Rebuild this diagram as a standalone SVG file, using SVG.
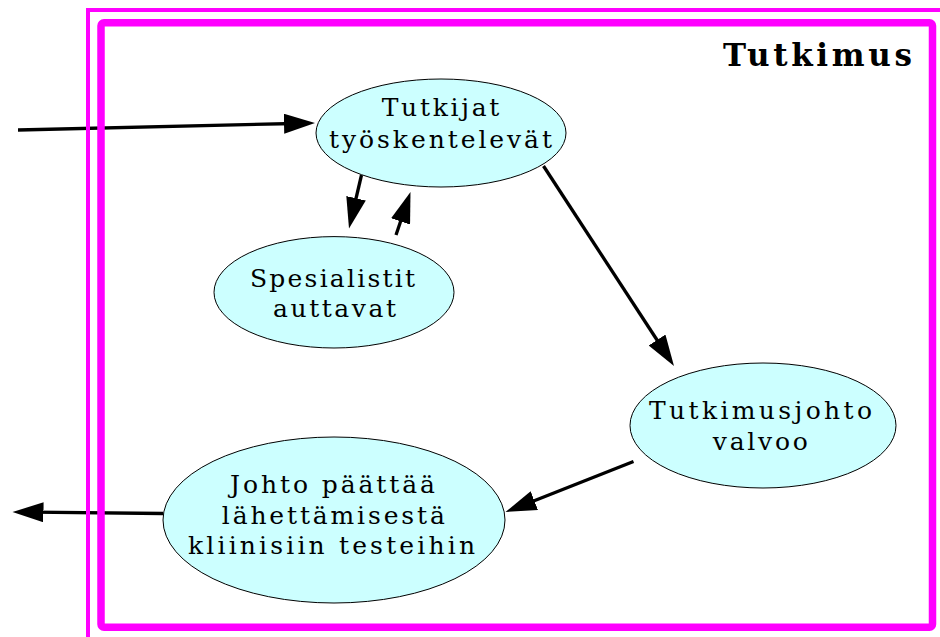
<svg xmlns="http://www.w3.org/2000/svg" width="940" height="637" viewBox="0 0 940 637">
<style>
.node ellipse{fill:#ccffff;stroke:#000;stroke-width:1}
.node text{font-family:"DejaVu Serif","Liberation Serif",serif;font-size:25px;fill:#000;text-anchor:middle}
.conn line{stroke:#000;stroke-width:3.3;fill:none}
.frame{fill:none;stroke:#ff00ff}
.title{font-family:"DejaVu Serif","Liberation Serif",serif;font-weight:bold;font-size:31px;fill:#000;text-anchor:end}
</style>
<defs>
<marker id="ah" markerUnits="userSpaceOnUse" viewBox="0 0 31 20" markerWidth="31" markerHeight="20" refX="11" refY="10" orient="auto">
<path d="M0,0 L31,10 L0,20 z" fill="#000"/>
</marker>
</defs>
<rect width="940" height="637" fill="#fff"/>
<g id="connectors" class="conn">
<line x1="18" y1="130" x2="295" y2="123.5" marker-end="url(#ah)"/>
<line x1="361.5" y1="175" x2="353.55" y2="209" marker-end="url(#ah)"/>
<line x1="396" y1="235" x2="404.1" y2="211" marker-end="url(#ah)"/>
<line x1="543.5" y1="166" x2="663.07" y2="349.25" marker-end="url(#ah)"/>
<line x1="633.5" y1="461.5" x2="524.1" y2="504.66" marker-end="url(#ah)"/>
<line x1="163" y1="513.5" x2="32.5" y2="512.2" marker-end="url(#ah)"/>
</g>
<g id="n1" class="node">
<ellipse cx="441" cy="133" rx="125" ry="54"/>
<text x="440.5" y="116" textLength="117.6" lengthAdjust="spacing">Tutkijat</text>
<text x="440.5" y="147.5" textLength="223" lengthAdjust="spacing">työskentelevät</text>
</g>
<g id="n2" class="node">
<ellipse cx="334" cy="292.3" rx="120" ry="55.7"/>
<text x="332.5" y="287" textLength="165" lengthAdjust="spacing">Spesialistit</text>
<text x="334.5" y="317" textLength="123" lengthAdjust="spacing">auttavat</text>
</g>
<g id="n3" class="node">
<ellipse cx="763" cy="425.5" rx="133" ry="62.5"/>
<text x="760.5" y="418.5" textLength="223" lengthAdjust="spacing">Tutkimusjohto</text>
<text x="760.3" y="450" textLength="95" lengthAdjust="spacing">valvoo</text>
</g>
<g id="n4" class="node">
<ellipse cx="334" cy="520" rx="171" ry="83"/>
<text x="332.5" y="493" textLength="205" lengthAdjust="spacing">Johto päättää</text>
<text x="333.3" y="523.5" textLength="223" lengthAdjust="spacing">lähettämisestä</text>
<text x="331.5" y="554" textLength="287" lengthAdjust="spacing">kliinisiin testeihin</text>
</g>
<g id="frame">
<rect class="frame" x="88" y="10" width="900" height="700" stroke-width="4"/>
<rect class="frame" x="101" y="22.7" width="831.5" height="604.6" rx="3" stroke-width="7.5"/>
<text class="title" x="912" y="65.5" textLength="189" lengthAdjust="spacing">Tutkimus</text>
</g>
</svg>
